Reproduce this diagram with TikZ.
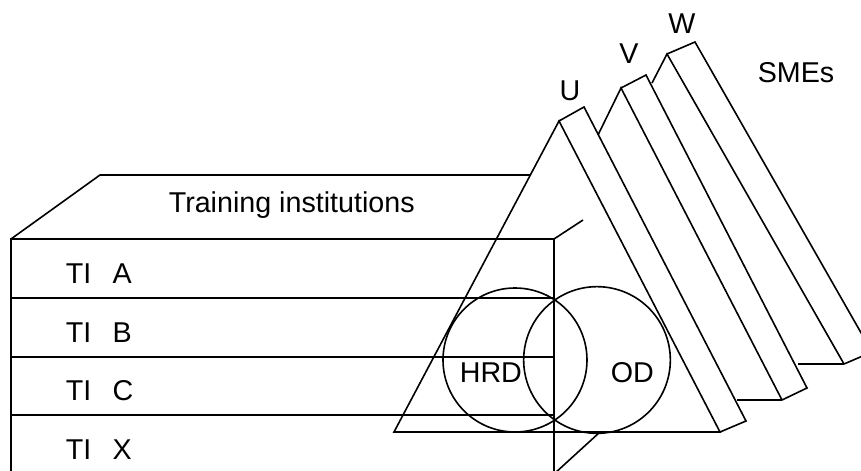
\documentclass[tikz,border=0pt]{standalone}
\usepackage{fontspec}
\setmainfont{Liberation Sans}
\usetikzlibrary{positioning}

\begin{document}
\begin{tikzpicture}[x=0.75pt,y=-0.75pt,
    line width=1.2pt,
    txt/.style={anchor=base west, inner sep=0pt, font=\fontsize{21.5}{25}\selectfont},
    set/.style={circle, draw, line width=1.2pt, inner sep=0pt},
    ]
    \useasboundingbox (0,0) rectangle (861,471);
    \clip (0,0) rectangle (861,471);

    % Training institutions block
    \coordinate (boxtl) at (11,239);
    \coordinate (boxtr) at (554,239);
    \coordinate (boxbl) at (11,480);
    \coordinate (boxbr) at (554,480);
    \coordinate (backl) at (100,175);
    \coordinate (backr) at (530,175);
    \coordinate (backtr) at (583,220);
    \coordinate (backbr) at (600,432);
    \draw (boxbl) -- (boxtl) -- (boxtr) -- (boxbr);
    \draw (boxtl) -- (backl) -- (backr);
    \draw (boxtr) -- (backtr);
    \draw (554,474) -- (backbr);

    % rows
    \foreach \y in {298,357,415}
        \draw (11,\y) -- (554,\y);

    \node[txt] (ti) at (168,212) {Training institutions};
    \foreach \t/\y in {A/283,B/342,C/400,X/459}
        \node[txt] (ti\t) at (65,\y) {TI\hspace{16pt}\t};

    % SME pyramids, back to front
    % W
    \coordinate (wtop) at (667,54);
    \coordinate (wbot) at (844,364);
    \draw (652,83) -- (wtop) -- (wbot);
    \draw (798,364) -- (wbot);
    \draw (wtop) -- (695,42) -- (872,352) -- (wbot);
    % V
    \coordinate (vtop) at (621,88);
    \coordinate (vbot) at (782,400);
    \draw (598,135) -- (vtop) -- (vbot);
    \draw (737,400) -- (vbot);
    \draw (vtop) -- (646,75) -- (807,388) -- (vbot);
    % U
    \coordinate (utop) at (559,121);
    \coordinate (ubl) at (394,432);
    \coordinate (ubr) at (720,432);
    \draw (utop) -- (ubl) -- (ubr) -- cycle;
    \draw (utop) -- (584,107) -- (746,421) -- (ubr);

    \node[txt, anchor=base] (u) at (570,100) {U};
    \node[txt, anchor=base] (v) at (629,63) {V};
    \node[txt, anchor=base] (w) at (682,33) {W};
    \node[txt] (smes) at (757,82) {SMEs};

    % HRD and OD sets
    \node[set, minimum size=108pt] (hrd) at (515,360) {};
    \node[set, minimum size=110pt] (od) at (597,360) {};
    \node[txt] (hrdl) at (459,382) {HRD};
    \node[txt] (odl) at (610,382) {OD};

\end{tikzpicture}
\end{document}
